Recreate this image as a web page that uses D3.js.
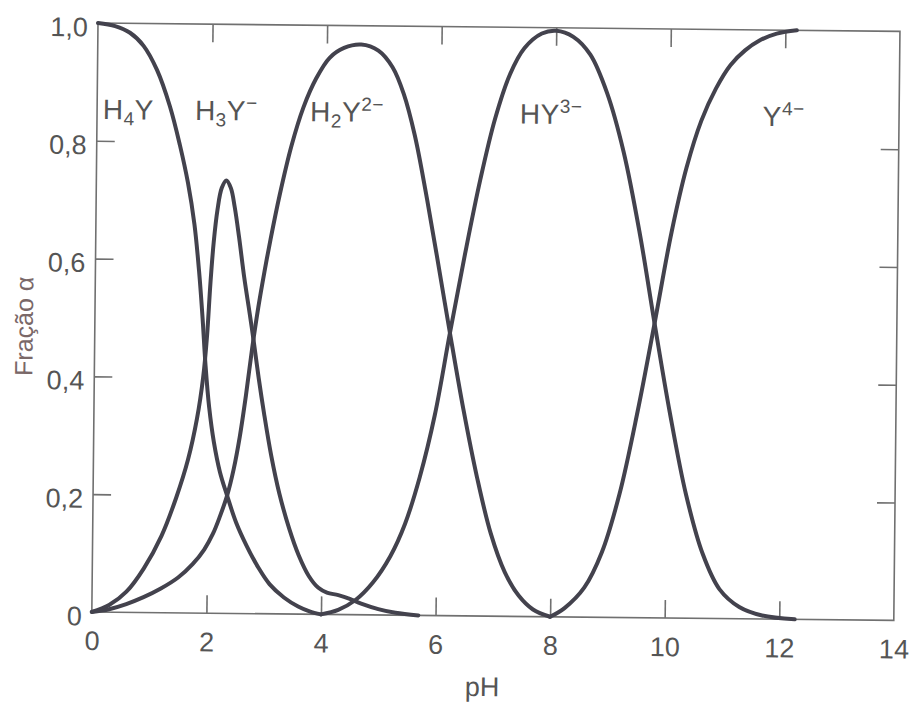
<!DOCTYPE html>
<html>
<head>
<meta charset="utf-8">
<script src="https://cdn.jsdelivr.net/npm/d3@7"></script>
<style>
  body { margin: 0; background: #ffffff; }
  svg { display: block; }
  text { font-family: "Liberation Sans", Arial, Helvetica, sans-serif; }
</style>
</head>
<body>
<svg id="chart" width="910" height="702"></svg>
<script>
// Fractional composition of EDTA species versus pH
const pHTicks = [0, 2, 4, 6, 8, 10, 12, 14];
const alphaTicks = [0, 0.2, 0.4, 0.6, 0.8, 1.0];

// [pH, alpha] for each species
const speciesH4Y = [[0,1.0],[0.3,0.995],[0.56,0.984],[0.8,0.962],[1.04,0.921],[1.27,0.86],[1.45,0.795],[1.6,0.73],[1.72,0.66],[1.81,0.58],[1.88,0.5],[1.94,0.42],[2.01,0.35],[2.1,0.29],[2.21,0.24],[2.34,0.2],[2.5,0.155],[2.69,0.115],[2.9,0.078],[3.1,0.05],[3.35,0.028],[3.6,0.013],[3.8,0.005],[4.0,0.0]];
const speciesH3Y = [[0,0],[0.3,0.012],[0.6,0.035],[0.9,0.075],[1.2,0.13],[1.45,0.195],[1.65,0.26],[1.8,0.33],[1.9,0.4],[1.96,0.47],[2.01,0.56],[2.06,0.63],[2.12,0.685],[2.19,0.722],[2.27,0.735],[2.35,0.722],[2.42,0.69],[2.5,0.64],[2.6,0.57],[2.7,0.51],[2.78,0.46],[2.87,0.4],[2.97,0.34],[3.1,0.27],[3.25,0.205],[3.43,0.145],[3.6,0.1],[3.78,0.065],[3.95,0.045],[4.1,0.037],[4.3,0.033],[4.5,0.027],[4.7,0.019],[5.0,0.01],[5.3,0.004],[5.7,0.0]];
const speciesH2Y = [[0,0],[0.3,0.005],[0.6,0.014],[0.9,0.026],[1.2,0.041],[1.5,0.06],[1.75,0.083],[1.95,0.108],[2.1,0.135],[2.22,0.165],[2.34,0.2],[2.45,0.245],[2.55,0.3],[2.65,0.37],[2.75,0.45],[2.85,0.52],[2.95,0.58],[3.05,0.635],[3.2,0.71],[3.4,0.795],[3.6,0.86],[3.82,0.91],[4.05,0.945],[4.3,0.962],[4.6,0.968],[4.9,0.958],[5.15,0.93],[5.35,0.885],[5.55,0.815],[5.75,0.72],[5.95,0.615],[6.2,0.48],[6.45,0.35],[6.7,0.235],[6.95,0.14],[7.2,0.075],[7.45,0.035],[7.7,0.012],[8.0,0]];
const speciesHY3 = [[4.0,0],[4.3,0.008],[4.6,0.025],[4.9,0.055],[5.2,0.1],[5.45,0.155],[5.7,0.235],[5.95,0.34],[6.2,0.48],[6.45,0.615],[6.7,0.74],[6.95,0.845],[7.2,0.92],[7.45,0.965],[7.75,0.99],[8.0,0.995],[8.3,0.985],[8.6,0.955],[8.9,0.89],[9.2,0.79],[9.5,0.65],[9.77,0.5],[10.05,0.35],[10.35,0.21],[10.65,0.11],[10.95,0.05],[11.3,0.02],[11.7,0.006],[12.27,0]];
const speciesY4 = [[8.0,0],[8.25,0.015],[8.59,0.05],[8.89,0.11],[9.19,0.21],[9.49,0.35],[9.77,0.5],[10.05,0.655],[10.3,0.765],[10.55,0.845],[10.8,0.9],[11.05,0.94],[11.3,0.965],[11.55,0.982],[11.85,0.994],[12.2,1.0]];

const seriesList = [speciesH4Y, speciesH3Y, speciesH2Y, speciesHY3, speciesY4];

// species names: [base, subscript, middle, superscript]
const speciesNames = [
  ["H", "4", "Y", ""],
  ["H", "3", "Y", "\u2212"],
  ["H", "2", "Y", "2\u2212"],
  ["HY", "", "", "3\u2212"],
  ["Y", "", "", "4\u2212"]
];
const speciesLabelPH = [0.1, 1.71, 3.72, 7.38, 11.62];

const W = 802, H = 589;
const svg = d3.select("#chart");
const g = svg.append("g").attr("transform", "translate(98,23) rotate(0.6)");

const x = d3.scaleLinear().domain([0, 14]).range([0, W]);
const y = d3.scaleLinear().domain([0, 1]).range([H, 0]);

const axisColor = "#707070";
const textColor = "#555555";
const fmt = d => d === 0 ? "0" : d3.format(".1f")(d).replace(".", ",");

// bottom axis: inward ticks, labels below
const axBottom = g.append("g").attr("transform", `translate(0,${H})`)
  .call(d3.axisBottom(x).tickValues(pHTicks).tickSize(-18).tickPadding(19).tickFormat(d3.format("d")));
axBottom.selectAll(".tick line").filter(d => d === 0 || d === 14).remove();

const axTop = g.append("g")
  .call(d3.axisTop(x).tickValues(pHTicks.slice(1, -1)).tickSize(-18).tickFormat(""));

const axLeft = g.append("g")
  .call(d3.axisLeft(y).tickValues(alphaTicks).tickSize(-18).tickPadding(10).tickFormat(fmt));
axLeft.selectAll(".tick line").filter(d => d === 0 || d === 1).remove();
axLeft.selectAll(".tick text").attr("dy", "0.48em");

const axRight = g.append("g").attr("transform", `translate(${W},0)`)
  .call(d3.axisRight(y).tickValues(alphaTicks.slice(1, -1)).tickSize(-18).tickFormat(""));

[axBottom, axTop, axLeft, axRight].forEach(a => {
  a.select(".domain").remove();
  a.selectAll(".tick line").attr("stroke", axisColor).attr("stroke-width", 1.6);
  a.selectAll(".tick text").attr("fill", textColor).style("font-size", "27px")
    .style("font-family", "'Liberation Sans', Arial, Helvetica, sans-serif");
});

// frame
g.append("rect").attr("x", 0).attr("y", 0).attr("width", W).attr("height", H)
  .attr("fill", "none").attr("stroke", axisColor).attr("stroke-width", 1.6);

// curves
const line = d3.line().x(d => x(d[0])).y(d => y(d[1])).curve(d3.curveCatmullRom.alpha(0.5));
g.append("g").selectAll("path").data(seriesList).join("path")
  .attr("d", line)
  .attr("fill", "none")
  .attr("stroke", "#43424d")
  .attr("stroke-width", 4)
  .attr("stroke-linejoin", "round")
  .attr("stroke-linecap", "round");

// species labels
const labels = g.append("g").attr("fill", textColor).style("font-size", "28px")
  .style("letter-spacing", "0.5px");
speciesNames.forEach((n, i) => {
  const t = labels.append("text").attr("x", x(speciesLabelPH[i])).attr("y", 96);
  t.append("tspan").text(n[0]);
  if (n[1]) t.append("tspan").attr("dy", 6).style("font-size", "19px").text(n[1]);
  if (n[2]) t.append("tspan").attr("dy", n[1] ? -6 : 0).text(n[2]);
  if (n[3]) t.append("tspan").attr("dy", -11).style("font-size", "19px").text(n[3]);
});

// axis titles
g.append("text").attr("x", 391).attr("y", 669).attr("text-anchor", "middle")
  .attr("fill", textColor).style("font-size", "27px").text("pH");
g.append("text").attr("transform", "translate(-62,304) rotate(-90)")
  .attr("text-anchor", "middle").attr("fill", "#7a6868").style("font-size", "25px")
  .text("Fração α");
</script>
</body>
</html>
